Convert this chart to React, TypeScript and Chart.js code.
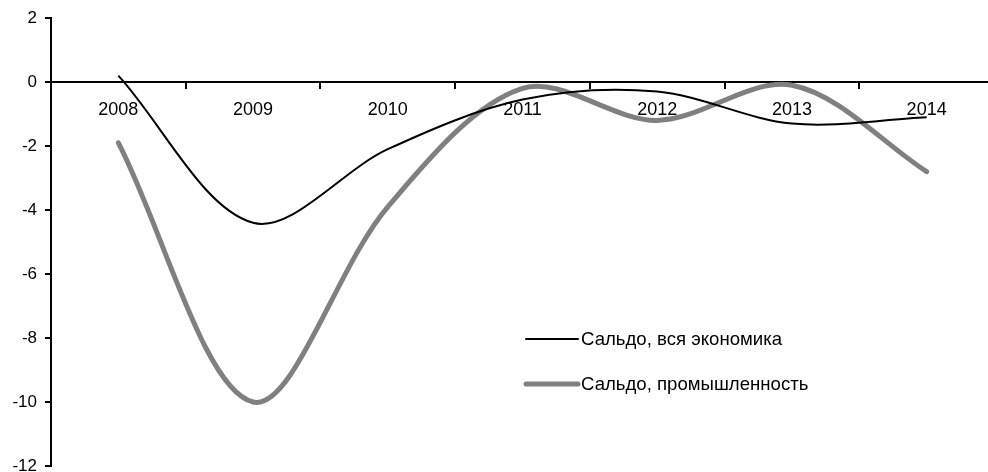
import React, { useEffect, useRef } from "react";
import { Chart, registerables } from "chart.js";

Chart.register(...registerables);

const categories: string[] = ["2008", "2009", "2010", "2011", "2012", "2013", "2014"];
const economyLabel = "Сальдо, вся экономика";
const industryLabel = "Сальдо, промышленность";
const economyValues: number[] = [0.2, -4.4, -2.1, -0.55, -0.3, -1.3, -1.1];
const industryValues: number[] = [-1.9, -10.0, -3.9, -0.2, -1.2, -0.1, -2.8];
const yMin = -12;
const yMax = 2;
const yStep = 2;

const FONT = "'Liberation Sans', Arial, sans-serif";

const legendPlugin = {
  id: "insideLegend",
  afterDatasetsDraw(chart: any) {
    const ctx = chart.ctx;
    const rows = [{ y: 339 }, { y: 384 }];
    ctx.save();
    chart.data.datasets.forEach((ds: any, i: number) => {
      const y = rows[i].y;
      ctx.beginPath();
      ctx.strokeStyle = ds.borderColor;
      ctx.lineWidth = ds.borderWidth;
      ctx.lineCap = "round";
      ctx.moveTo(526, y);
      ctx.lineTo(578, y);
      ctx.stroke();
      ctx.fillStyle = "#000";
      ctx.font = `18.6px ${FONT}`;
      ctx.textBaseline = "middle";
      ctx.textAlign = "left";
      ctx.fillText(ds.label, 581, y + 1);
    });
    ctx.restore();
  },
};

export default function App() {
  const ref = useRef<HTMLCanvasElement | null>(null);

  useEffect(() => {
    if (!ref.current) return;
    const chart = new Chart(ref.current, {
      type: "line",
      data: {
        labels: categories,
        datasets: [
          {
            label: economyLabel,
            data: economyValues,
            borderColor: "#000000",
            borderWidth: 2,
            pointRadius: 0,
            tension: 0.33,
            fill: false,
          },
          {
            label: industryLabel,
            data: industryValues,
            borderColor: "#808080",
            borderWidth: 5,
            pointRadius: 0,
            tension: 0.33,
            fill: false,
            borderCapStyle: "round",
          },
        ],
      },
      options: {
        animation: false,
        responsive: true,
        maintainAspectRatio: false,
        devicePixelRatio: 1,
        layout: { padding: { top: 18, bottom: 6, left: 0, right: 2 } },
        plugins: {
          legend: { display: false },
          tooltip: { enabled: false },
        },
        scales: {
          x: {
            type: "category",
            position: { y: 0 } as any,
            offset: true,
            grid: {
              offset: true,
              drawOnChartArea: false,
              drawTicks: true,
              tickLength: 6,
              color: "#000",
              lineWidth: 2,
            },
            border: { display: true, color: "#000", width: 2 },
            ticks: {
              color: "#000",
              font: { family: FONT, size: 18 },
              padding: 11,
              maxRotation: 0,
              autoSkip: false,
            },
          },
          y: {
            min: yMin,
            max: yMax,
            position: "left",
            grid: {
              drawOnChartArea: false,
              drawTicks: true,
              tickLength: 6,
              color: "#000",
              lineWidth: 2,
            },
            border: { display: true, color: "#000", width: 2 },
            ticks: {
              stepSize: yStep,
              color: "#000",
              font: { family: FONT, size: 17 },
              padding: 8,
            },
            afterFit: (s: any) => {
              s.width = 51;
              s.paddingTop = 0;
              s.paddingBottom = 0;
            },
          },
        },
      },
      plugins: [legendPlugin],
    });
    return () => chart.destroy();
  }, []);

  return (
    <div
      style={{
        position: "fixed",
        left: 0,
        top: 0,
        width: 988,
        height: 472,
        overflow: "hidden",
        background: "#fff",
      }}
    >
      <div style={{ position: "relative", width: 996, height: 472 }}>
        <canvas ref={ref} />
      </div>
    </div>
  );
}
